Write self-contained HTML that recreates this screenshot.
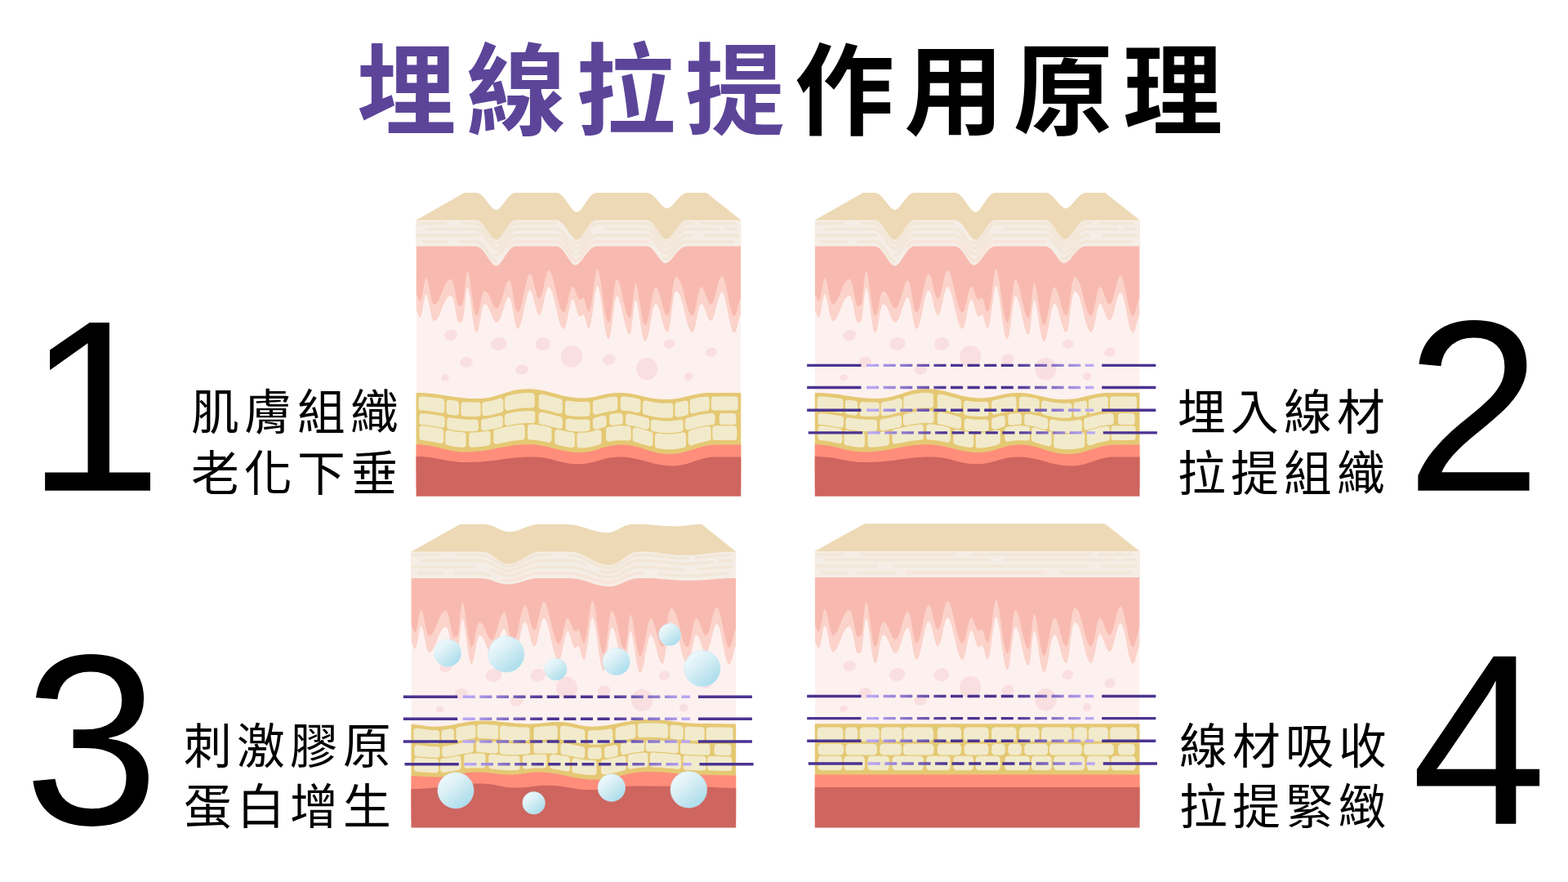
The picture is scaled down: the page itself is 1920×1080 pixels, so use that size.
<!DOCTYPE html>
<html lang="zh-Hant"><head><meta charset="utf-8"><title>埋線拉提作用原理</title>
<style>html,body{margin:0;padding:0;background:#fff}body{width:1920px;height:1080px;overflow:hidden;position:relative;font-family:"Liberation Sans",sans-serif}svg{position:absolute;left:0;top:0;display:block}.t{position:absolute;white-space:nowrap;line-height:1.27;color:transparent;-webkit-text-fill-color:transparent;opacity:0;pointer-events:none;font-family:"Liberation Sans",sans-serif}</style></head>
<body>
<h1 class="t" style="left:437px;top:42px;font-size:122px;letter-spacing:12px;font-weight:bold;margin:0">埋線拉提作用原理</h1>
<div class="t" style="left:30px;top:330px;font-size:299px;letter-spacing:0px;font-weight:normal">1</div>
<div class="t" style="left:234px;top:470px;font-size:58.8px;letter-spacing:6.2px;font-weight:normal">肌膚組織<br>老化下垂</div>
<div class="t" style="left:1719px;top:330px;font-size:299px;letter-spacing:0px;font-weight:normal">2</div>
<div class="t" style="left:1442px;top:470px;font-size:58.8px;letter-spacing:6.2px;font-weight:normal">埋入線材<br>拉提組織</div>
<div class="t" style="left:27px;top:738px;font-size:298px;letter-spacing:0px;font-weight:normal">3</div>
<div class="t" style="left:225px;top:878px;font-size:58.8px;letter-spacing:6.2px;font-weight:normal">刺激膠原<br>蛋白增生</div>
<div class="t" style="left:1726px;top:738px;font-size:298px;letter-spacing:0px;font-weight:normal">4</div>
<div class="t" style="left:1444px;top:878px;font-size:58.8px;letter-spacing:6.2px;font-weight:normal">線材吸收<br>拉提緊緻</div>
<svg width="1920" height="1080" viewBox="0 0 1920 1080">
<defs><linearGradient id="bub" x1="0.18" y1="0.12" x2="0.85" y2="0.92"><stop offset="0" stop-color="#EEF9FC"/><stop offset="0.3" stop-color="#DDF1F6"/><stop offset="0.65" stop-color="#C3E6F0"/><stop offset="1" stop-color="#A8DCEC"/></linearGradient><linearGradient id="thg" gradientUnits="userSpaceOnUse" x1="572" y1="0" x2="852" y2="0"><stop offset="0.03" stop-color="#B9A7F3"/><stop offset="0.36" stop-color="#4B3391"/><stop offset="0.64" stop-color="#4B3391"/><stop offset="0.97" stop-color="#B9A7F3"/></linearGradient><clipPath id="cp"><rect x="509.6" y="200" width="397.7" height="420"/></clipPath></defs>
<rect width="1920" height="1080" fill="#fff"/>
<g transform="translate(0 0)">
<g clip-path="url(#cp)">
<rect x="509.6" y="330" width="397.7" height="170" fill="#FDF1EF"/>
<ellipse cx="552.1" cy="410.5" rx="8" ry="6.6" fill="#FADFE1" transform="rotate(-15 552.1 410.5)"/>
<ellipse cx="610.6" cy="421" rx="10" ry="8" fill="#FADFE1" transform="rotate(-10 610.6 421)"/>
<ellipse cx="664.8" cy="421" rx="9.4" ry="8" fill="#FADFE1" transform="rotate(-10 664.8 421)"/>
<ellipse cx="700" cy="436.4" rx="13.2" ry="13.5" fill="#FADFE1" transform="rotate(0 700 436.4)"/>
<ellipse cx="571" cy="443.5" rx="8" ry="6.5" fill="#FADFE1" transform="rotate(-10 571 443.5)"/>
<ellipse cx="638.9" cy="452.7" rx="8" ry="6" fill="#FADFE1" transform="rotate(-10 638.9 452.7)"/>
<ellipse cx="544.9" cy="462.5" rx="4.9" ry="4" fill="#FADFE1" transform="rotate(-10 544.9 462.5)"/>
<ellipse cx="745.8" cy="440.2" rx="8" ry="6.6" fill="#FADFE1" transform="rotate(-15 745.8 440.2)"/>
<ellipse cx="792.2" cy="451.6" rx="13.2" ry="13.7" fill="#FADFE1" transform="rotate(0 792.2 451.6)"/>
<ellipse cx="819.5" cy="421.2" rx="6.9" ry="5.7" fill="#FADFE1" transform="rotate(-15 819.5 421.2)"/>
<ellipse cx="871" cy="431.3" rx="7.1" ry="5.7" fill="#FADFE1" transform="rotate(-15 871 431.3)"/>
<ellipse cx="843" cy="460.8" rx="5.4" ry="5" fill="#FADFE1" transform="rotate(-40 843 460.8)"/>
<path fill="#FBD3CA" d="M509.6 269.5L509.6 380.8C511 380.8 512.4 388.8 514.3 388.8C517.3 388.8 519.3 360.8 521.8 360.8C525 360.8 527.6 393.2 531.5 393.2C539.7 393.2 542.8 362.3 552.1 362.3C556.8 362.3 558.3 395.1 562.5 395.1C563.9 395.1 564.5 394 565.9 394C568.4 394 570.1 352.2 572.2 352.2C576 352.2 579 407.2 583.6 407.2C587.5 407.2 589 372.4 593.4 372.4C600.1 372.4 602.3 394.8 608.3 394.8C614.4 394.8 618 363.9 623.5 363.9C627.3 363.9 629.9 402.8 634.1 402.8C640.1 402.8 643.6 355.8 649 355.8C653.1 355.8 655.8 386 660.4 386C665 386 667.8 351.3 671.9 351.3C678.6 351.3 683 402.8 690.4 402.8C694.7 402.8 697.2 366.6 701.1 366.6C704.4 366.6 706.7 387.7 710.4 387.7C711.8 387.7 712.7 385.2 714 385.2C716.6 385.2 718.3 402 721.2 402C725.3 402 728.1 350.1 731.5 350.1C736.1 350.1 739.8 415.4 745.3 415.4C749.3 415.4 751.6 362.5 755.2 362.5C761 362.5 764.9 410 771.3 410C774 410 775.9 367.3 778.1 367.3C782 367.3 785.2 418.1 790 418.1C795.2 418.1 798.3 371.9 802.9 371.9C808.2 371.9 811.7 406.9 817.5 406.9C821.6 406.9 823.2 356.8 827.8 356.8C836.9 356.8 839.9 406.9 848 406.9C852.3 406.9 854.8 371.7 858.7 371.7C862.9 371.7 865.8 392.8 870.5 392.8C875.9 392.8 879.1 358.1 883.9 358.1C889.4 358.1 893.1 407.7 899.2 407.7C902.4 407.7 904.9 385.4 907.3 385.4L907.3 269.5Z"/>
<path fill="#F8BAB0" d="M509.6 269.5L509.6 360.4C511 360.4 512.4 368.4 514.3 368.4C517.3 368.4 519.3 340.4 521.8 340.4C525 340.4 527.6 372.8 531.5 372.8C539.7 372.8 542.8 341.9 552.1 341.9C556.8 341.9 558.3 374.7 562.5 374.7C563.9 374.7 564.5 373.6 565.9 373.6C568.4 373.6 570.1 331.8 572.2 331.8C576 331.8 579 386.8 583.6 386.8C587.5 386.8 589 356.4 593.4 356.4C600.1 356.4 602.3 377.6 608.3 377.6C614.4 377.6 618 343.5 623.5 343.5C627.3 343.5 629.9 382.4 634.1 382.4C640.1 382.4 643.6 335.4 649 335.4C653.1 335.4 655.8 365.6 660.4 365.6C665 365.6 667.8 330.9 671.9 330.9C678.6 330.9 683 382.4 690.4 382.4C694.7 382.4 697.2 351 701.1 351C704.4 351 706.7 367.3 710.4 367.3C711.8 367.3 712.7 364.8 714 364.8C716.6 364.8 718.3 381.6 721.2 381.6C725.3 381.6 728.1 329.7 731.5 329.7C736.1 329.7 739.8 395 745.3 395C749.3 395 751.6 342.1 755.2 342.1C761 342.1 764.9 389.6 771.3 389.6C774 389.6 775.9 346.9 778.1 346.9C782 346.9 785.2 397.7 790 397.7C795.2 397.7 798.3 351.5 802.9 351.5C808.2 351.5 811.7 386.5 817.5 386.5C821.6 386.5 823.2 338.9 827.8 338.9C836.9 338.9 839.9 386.5 848 386.5C852.3 386.5 854.8 351.3 858.7 351.3C862.9 351.3 865.8 372.4 870.5 372.4C875.9 372.4 879.1 337.7 883.9 337.7C889.4 337.7 893.1 387.3 899.2 387.3C902.4 387.3 904.9 365 907.3 365L907.3 269.5Z"/>
<path fill="#F5EEE6" d="M509.6 301.6L582.5 301.6C593.1 301.6 600.1 325.7 607.7 325.7C614.9 325.7 621.7 301.6 631.8 301.6L681 301.6C690.9 301.6 697.5 324.8 704.5 324.8C712.4 324.8 719.8 301.6 730.9 301.6L791.7 301.6C801.4 301.6 807.9 322.3 814.8 322.3C822.7 322.3 830 301.6 841 301.6L907.3 301.6L907.3 269.5L903.3 267.5L513.6 267.5L509.6 269.5Z"/>
<path d="M509.6 273.5L582.5 273.5C593.1 273.5 600.1 297.6 607.7 297.6C614.9 297.6 621.7 273.5 631.8 273.5L681 273.5C691.5 273.5 698.6 297.5 706.1 297.5C713.5 297.5 720.5 273.5 730.9 273.5L791.7 273.5C801.8 273.5 808.5 296.7 815.8 296.7C823.5 296.7 830.7 273.5 841.4 273.5L907.3 273.5" fill="none" stroke="#F2E7D8" stroke-width="3.8" stroke-linecap="round" stroke-dasharray="32.3 21.9 135.1 31.9 178 10.3 40.1 99999" stroke-dashoffset="-3"/>
<path d="M509.6 280.3L582.5 280.3C593.1 280.3 600.1 304.4 607.7 304.4C614.9 304.4 621.7 280.3 631.8 280.3L681 280.3C691.4 280.3 698.3 304.1 705.7 304.1C713.3 304.1 720.3 280.3 730.9 280.3L791.7 280.3C801.7 280.3 808.4 302.8 815.5 302.8C823.3 302.8 830.5 280.3 841.3 280.3L907.3 280.3" fill="none" stroke="#F2E7D8" stroke-width="3.8" stroke-linecap="round" stroke-dasharray="242 20.2 156.8 9 13.9 99999" stroke-dashoffset="-13"/>
<path d="M509.6 288L582.5 288C593.1 288 600.1 312.1 607.7 312.1C614.9 312.1 621.7 288 631.8 288L681 288C691.2 288 698 311.5 705.3 311.5C713 311.5 720.1 288 730.9 288L791.7 288C801.6 288 808.2 309.8 815.3 309.8C823.1 309.8 830.3 288 841.2 288L907.3 288" fill="none" stroke="#F2E7D8" stroke-width="3.8" stroke-linecap="round" stroke-dasharray="73.3 33 287.4 18.1 40.9 99999" stroke-dashoffset="-2.2"/>
<path d="M509.6 295.7L582.5 295.7C593.1 295.7 600.1 319.8 607.7 319.8C614.9 319.8 621.7 295.7 631.8 295.7L681 295.7C691 295.7 697.7 319 704.8 319C712.7 319 720 295.7 730.9 295.7L791.7 295.7C801.5 295.7 808 316.9 815 316.9C822.8 316.9 830.1 295.7 841.1 295.7L907.3 295.7" fill="none" stroke="#F2E7D8" stroke-width="3.8" stroke-linecap="round" stroke-dasharray="28.7 15.6 54.4 246.8 93.3 99999" stroke-dashoffset="-9.1"/>
<path d="M509.6 295.7L582.5 295.7C593.1 295.7 600.1 319.8 607.7 319.8C614.9 319.8 621.7 295.7 631.8 295.7L681 295.7C691 295.7 697.7 319 704.8 319C712.7 319 720 295.7 730.9 295.7L791.7 295.7C801.5 295.7 808 316.9 815 316.9C822.8 316.9 830.1 295.7 841.1 295.7L907.3 295.7" fill="none" stroke="#F8E4D9" stroke-width="3.8" stroke-linecap="round" stroke-dasharray="193.2 99999" stroke-dashoffset="-131.8"/>
</g>
<path fill="#EDD9B5" d="M509.6 269.5L568.7 236.1L582.5 236.1C593.1 236.1 600.1 256.9 607.7 256.9C614.9 256.9 621.7 236.1 631.8 236.1L681 236.1C691.6 236.1 698.7 259.8 706.3 259.8C713.7 259.8 720.6 236.1 730.9 236.1L791.7 236.1C802.3 236.1 809.3 255.2 816.9 255.2C824.5 255.2 831.5 236.1 842.1 236.1L865 236.1L907.3 269.5L841.5 269.5C830.7 269.5 823.6 293 815.9 293C808.6 293 801.9 269.5 791.7 269.5L730.9 269.5C720.6 269.5 713.7 293.6 706.3 293.6C698.7 293.6 691.6 269.5 681 269.5L631.8 269.5C621.7 269.5 614.9 293.6 607.7 293.6C600.1 293.6 593.1 269.5 582.5 269.5L509.6 269.5Z"/>
<path fill="#E5C873" d="M509.6 480.9C539.8 480.9 554.8 488.1 585 488.1C609.4 488.1 621.6 476.3 646 476.3C672.4 476.3 685.6 487.4 712 487.4C730.4 487.4 739.6 480.9 758 480.9C780.7 480.9 792.1 489.1 814.8 489.1C837.1 489.1 848.3 480.9 870.6 480.9C885.3 480.9 892.6 480.9 907.3 480.9L907.3 577.7L509.6 577.7Z"/>
<path d="M516.2 489.2L519.7 489.3L523.2 489.6L526.7 489.9L530.1 490.3L533.6 490.7L537.1 491.2L540.6 491.7L540.6 502L537.1 501.4L533.6 500.8L530.1 500.2L526.7 499.8L523.2 499.4L519.7 499.1L516.2 498.9ZM550.4 493.3L554.4 494L558.3 494.5L558.3 505.1L554.4 504.5L550.4 503.8ZM568.2 495.7L571.5 495.9L574.9 496.1L578.2 496.3L581.6 496.3L584.9 496.3L584.9 506.4L581.6 506.5L578.2 506.5L574.9 506.4L571.5 506.3L568.2 506.1ZM594.1 495.7L597.8 495.2L601.5 494.4L605.3 493.5L609 492.5L612.7 491.4L612.7 501.5L609 502.5L605.3 503.5L601.5 504.3L597.8 505.1L594.1 505.6ZM621.8 488.6L625.5 487.5L629.1 486.7L632.8 485.9L636.4 485.4L640.1 485L643.7 484.8L647.4 484.8L651 484.9L651 495.8L647.4 495.7L643.7 495.8L640.1 495.9L636.4 496.3L632.8 496.8L629.1 497.4L625.5 498.2L621.8 499ZM663.3 486.4L666.9 487.1L670.6 488L674.2 489L677.8 490L681.5 491L685.1 491.9L685.1 502.7L681.5 501.8L677.8 500.8L674.2 499.8L670.6 498.9L666.9 498L663.3 497.3ZM695.6 494.3L699.5 494.9L703.3 495.4L707.2 495.7L711 495.8L714.9 495.7L718.7 495.5L718.7 506L714.9 506.3L711 506.4L707.2 506.3L703.3 506.1L699.5 505.6L695.6 505.1ZM729.6 493.7L733.4 492.8L737.3 491.9L741.1 491L744.9 490.2L748.8 489.7L752.6 489.3L752.6 499.1L748.8 499.6L744.9 500.2L741.1 501.1L737.3 502L733.4 503.1L729.6 504ZM763.5 489.2L767 489.5L770.4 489.9L773.9 490.4L777.3 491.1L780.8 491.8L780.8 501.6L777.3 500.8L773.9 500.2L770.4 499.6L767 499.2L763.5 499ZM790.6 494.2L794.4 495.1L798.1 495.8L801.9 496.5L805.6 496.9L809.4 497.3L813.1 497.4L816.8 497.5L820.6 497.3L820.6 508L816.8 508.1L813.1 508L809.4 507.8L805.6 507.3L801.9 506.8L798.1 506L794.4 505.1L790.6 504.2ZM830.2 496.2L833.2 495.6L836.2 495L839.2 494.3L839.2 505.1L836.2 505.8L833.2 506.4L830.2 507ZM848.4 492L851.7 491.3L855 490.6L858.4 490L861.7 489.6L865 489.3L865 499.4L861.7 499.8L858.4 500.3L855 501L851.7 501.8L848.4 502.7ZM874.6 489.1L878.2 489.1L881.9 489.1L885.5 489.1L889.1 489.1L892.7 489.1L896.4 489.1L900 489.1L900 498.8L896.4 498.8L892.7 498.8L889.1 498.8L885.5 498.8L881.9 498.8L878.2 498.8L874.6 498.9ZM517.1 509.8L520.5 510.1L524 510.4L527.4 510.8L530.8 511.3L534.2 511.8L537.7 512.5L541.1 513.1L541.1 520.1L537.7 519.4L534.2 518.7L530.8 518.1L527.4 517.5L524 517L520.5 516.6L517.1 516.4ZM551 515L554.9 515.6L558.8 516.2L562.7 516.7L566.6 517L570.4 517.3L574.3 517.4L578.2 517.5L582.1 517.5L582.1 524.4L578.2 524.5L574.3 524.5L570.4 524.4L566.6 524.2L562.7 523.9L558.8 523.4L554.9 522.8L551 522.2ZM592.8 516.7L596.7 516.2L600.6 515.5L604.4 514.6L608.3 513.7L612.2 512.6L612.2 519.5L608.3 520.5L604.4 521.4L600.6 522.2L596.7 522.9L592.8 523.5ZM621.5 510.2L625.3 509.3L629 508.5L632.8 507.9L636.5 507.4L640.3 507.1L644.1 506.9L647.8 506.9L651.6 507L651.6 514.6L647.8 514.4L644.1 514.4L640.3 514.6L636.5 514.9L632.8 515.3L629 515.9L625.3 516.5L621.5 517.3ZM663.3 508.4L666.9 509.2L670.6 510L674.2 510.9L677.8 511.9L681.5 512.9L685.1 513.9L685.1 521.3L681.5 520.3L677.8 519.4L674.2 518.4L670.6 517.5L666.9 516.7L663.3 515.9ZM696.2 516.2L700 516.8L703.7 517.2L707.5 517.4L711.2 517.5L715 517.4L718.7 517.1L718.7 524.3L715 524.6L711.2 524.8L707.5 524.7L703.7 524.5L700 524.1L696.2 523.6ZM729.6 515L732.7 514.3L735.8 513.4L738.9 512.6L738.9 519.5L735.8 520.4L732.7 521.3L729.6 522.1ZM749.9 510.4L753 510L756 509.8L759.1 509.7L759.1 516.3L756 516.4L753 516.7L749.9 517.1ZM769.8 510.4L773.4 511L777 511.7L780.6 512.5L784.2 513.4L787.8 514.4L791.4 515.3L791.4 522.1L787.8 521.1L784.2 520.1L780.6 519.1L777 518.2L773.4 517.5L769.8 517ZM800.5 517.5L804.1 518.1L807.7 518.6L811.3 519L814.9 519.2L818.6 519.2L822.2 519L825.8 518.7L829.4 518.2L833 517.6L833 525.1L829.4 525.7L825.8 526.1L822.2 526.4L818.6 526.5L814.9 526.4L811.3 526.2L807.7 525.8L804.1 525.2L800.5 524.5ZM842.6 515.3L846.3 514.3L849.9 513.3L853.6 512.4L857.2 511.6L860.9 510.9L864.5 510.4L868.1 510L871.8 509.8L871.8 516.5L868.1 516.8L864.5 517.2L860.9 517.9L857.2 518.6L853.6 519.6L849.9 520.6L846.3 521.7L842.6 522.7ZM884.5 509.7L887.8 509.7L891.1 509.7L894.5 509.7L897.8 509.7L897.8 516.3L894.5 516.3L891.1 516.3L887.8 516.3L884.5 516.3ZM517.1 525L520.8 525.3L524.6 525.8L528.3 526.3L532 527L535.8 527.7L539.5 528.5L539.5 539.4L535.8 538.5L532 537.7L528.3 536.9L524.6 536.3L520.8 535.8L517.1 535.4ZM549 530.5L552.6 531.2L556.2 531.8L559.8 532.3L563.4 532.7L567 533L567 544.1L563.4 543.9L559.8 543.5L556.2 543L552.6 542.4L549 541.6ZM578 533.2L581.8 533.1L585.6 532.9L589.3 532.5L593.1 532.1L596.9 531.5L596.9 542.1L593.1 542.7L589.3 543.2L585.6 543.6L581.8 543.9L578 544.1ZM608.1 529.2L612 528.3L615.8 527.4L619.7 526.5L623.5 525.6L627.4 524.9L631.3 524.3L635.1 523.8L639 523.4L639 535L635.1 535.3L631.3 535.7L627.4 536.2L623.5 536.8L619.7 537.5L615.8 538.3L612 539.1L608.1 539.9ZM649.7 523.2L653.4 523.4L657.1 523.8L660.8 524.3L664.4 524.9L668.1 525.7L671.8 526.5L671.8 538.1L668.1 537.2L664.4 536.5L660.8 535.9L657.1 535.4L653.4 535L649.7 534.9ZM683 529.5L686.4 530.4L689.9 531.2L693.3 531.9L696.8 532.4L700.2 532.9L700.2 544.3L696.8 543.8L693.3 543.3L689.9 542.6L686.4 541.8L683 541ZM710.2 533.5L714 533.4L717.8 533.1L721.5 532.6L725.3 531.9L729.1 530.9L732.9 529.9L732.9 540.8L729.1 542L725.3 543L721.5 543.8L717.8 544.4L714 544.7L710.2 544.8ZM745.8 526.5L749.7 525.8L753.5 525.3L757.4 525L761.3 525L765.1 525.2L769 525.5L769 535.9L765.1 535.6L761.3 535.4L757.4 535.5L753.5 535.8L749.7 536.3L745.8 537.1ZM778.4 527.2L781.9 528.1L785.4 529.1L788.8 530.1L792.3 531.1L795.8 532L795.8 542.8L792.3 541.7L788.8 540.6L785.4 539.6L781.9 538.5L778.4 537.6ZM805.7 534.2L809.5 534.7L813.4 535.1L817.2 535.2L821 535.2L824.8 535L828.6 534.5L832.5 533.9L836.3 533.1L836.3 544.6L832.5 545.4L828.6 546L824.8 546.4L821 546.6L817.2 546.6L813.4 546.3L809.5 545.9L805.7 545.3ZM846.4 530.3L849.8 529.3L853.2 528.4L856.7 527.5L860.1 526.7L863.5 526.1L866.9 525.6L866.9 536.2L863.5 536.8L860.1 537.6L856.7 538.5L853.2 539.5L849.8 540.6L846.4 541.7ZM876.1 525L879.9 525L883.6 525L887.4 525L891.1 525L894.8 525L898.6 525L898.6 535.4L894.8 535.4L891.1 535.4L887.4 535.4L883.6 535.4L879.9 535.4L876.1 535.4Z" fill="#F1EBCC" stroke="#F1EBCC" stroke-width="7.4" stroke-linejoin="round"/>
<path fill="#FF8D7B" d="M509.6 544.2C534.2 544.2 546.4 553.5 571 553.5C601.4 553.5 616.6 544.3 647 544.3C672.2 544.3 684.8 554.2 710 554.2C730.2 554.2 740.3 544.5 760.5 544.5C784.3 544.5 796.2 556 820 556C843.2 556 854.8 544.5 878 544.5C889.7 544.5 895.6 544.5 907.3 544.5L907.3 597.7L509.6 597.7Z"/>
<path fill="#CE655F" d="M509.6 558.9C534.6 558.9 547.2 566.1 572.2 566.1C604.6 566.1 620.7 559.5 653.1 559.5C675 559.5 685.9 568.3 707.8 568.3C727.9 568.3 738 559.5 758.1 559.5C784.4 559.5 797.5 570.5 823.8 570.5C844.8 570.5 855.3 559.5 876.3 559.5C888.7 559.5 894.9 559.5 907.3 559.5L907.3 607.7L509.6 607.7Z"/>
</g>
<g transform="translate(488.2 0)">
<g clip-path="url(#cp)">
<rect x="509.6" y="330" width="397.7" height="170" fill="#FDF1EF"/>
<ellipse cx="552.1" cy="410.5" rx="8" ry="6.6" fill="#FADFE1" transform="rotate(-15 552.1 410.5)"/>
<ellipse cx="610.6" cy="421" rx="10" ry="8" fill="#FADFE1" transform="rotate(-10 610.6 421)"/>
<ellipse cx="664.8" cy="421" rx="9.4" ry="8" fill="#FADFE1" transform="rotate(-10 664.8 421)"/>
<ellipse cx="700" cy="436.4" rx="13.2" ry="13.5" fill="#FADFE1" transform="rotate(0 700 436.4)"/>
<ellipse cx="571" cy="443.5" rx="8" ry="6.5" fill="#FADFE1" transform="rotate(-10 571 443.5)"/>
<ellipse cx="638.9" cy="452.7" rx="8" ry="6" fill="#FADFE1" transform="rotate(-10 638.9 452.7)"/>
<ellipse cx="544.9" cy="462.5" rx="4.9" ry="4" fill="#FADFE1" transform="rotate(-10 544.9 462.5)"/>
<ellipse cx="745.8" cy="440.2" rx="8" ry="6.6" fill="#FADFE1" transform="rotate(-15 745.8 440.2)"/>
<ellipse cx="792.2" cy="451.6" rx="13.2" ry="13.7" fill="#FADFE1" transform="rotate(0 792.2 451.6)"/>
<ellipse cx="819.5" cy="421.2" rx="6.9" ry="5.7" fill="#FADFE1" transform="rotate(-15 819.5 421.2)"/>
<ellipse cx="871" cy="431.3" rx="7.1" ry="5.7" fill="#FADFE1" transform="rotate(-15 871 431.3)"/>
<ellipse cx="843" cy="460.8" rx="5.4" ry="5" fill="#FADFE1" transform="rotate(-40 843 460.8)"/>
<path fill="#FBD3CA" d="M509.6 269.5L509.6 380.8C511 380.8 512.4 388.8 514.3 388.8C517.3 388.8 519.3 360.8 521.8 360.8C525 360.8 527.6 393.2 531.5 393.2C539.7 393.2 542.8 362.3 552.1 362.3C556.8 362.3 558.3 395.1 562.5 395.1C563.9 395.1 564.5 394 565.9 394C568.4 394 570.1 352.2 572.2 352.2C576 352.2 579 407.2 583.6 407.2C587.5 407.2 589 372.4 593.4 372.4C600.1 372.4 602.3 394.8 608.3 394.8C614.4 394.8 618 363.9 623.5 363.9C627.3 363.9 629.9 402.8 634.1 402.8C640.1 402.8 643.6 355.8 649 355.8C653.1 355.8 655.8 386 660.4 386C665 386 667.8 351.3 671.9 351.3C678.6 351.3 683 402.8 690.4 402.8C694.7 402.8 697.2 366.6 701.1 366.6C704.4 366.6 706.7 387.7 710.4 387.7C711.8 387.7 712.7 385.2 714 385.2C716.6 385.2 718.3 402 721.2 402C725.3 402 728.1 350.1 731.5 350.1C736.1 350.1 739.8 415.4 745.3 415.4C749.3 415.4 751.6 362.5 755.2 362.5C761 362.5 764.9 410 771.3 410C774 410 775.9 367.3 778.1 367.3C782 367.3 785.2 418.1 790 418.1C795.2 418.1 798.3 371.9 802.9 371.9C808.2 371.9 811.7 406.9 817.5 406.9C821.6 406.9 823.2 356.8 827.8 356.8C836.9 356.8 839.9 406.9 848 406.9C852.3 406.9 854.8 371.7 858.7 371.7C862.9 371.7 865.8 392.8 870.5 392.8C875.9 392.8 879.1 358.1 883.9 358.1C889.4 358.1 893.1 407.7 899.2 407.7C902.4 407.7 904.9 385.4 907.3 385.4L907.3 269.5Z"/>
<path fill="#F8BAB0" d="M509.6 269.5L509.6 360.4C511 360.4 512.4 368.4 514.3 368.4C517.3 368.4 519.3 340.4 521.8 340.4C525 340.4 527.6 372.8 531.5 372.8C539.7 372.8 542.8 341.9 552.1 341.9C556.8 341.9 558.3 374.7 562.5 374.7C563.9 374.7 564.5 373.6 565.9 373.6C568.4 373.6 570.1 331.8 572.2 331.8C576 331.8 579 386.8 583.6 386.8C587.5 386.8 589 356.4 593.4 356.4C600.1 356.4 602.3 377.6 608.3 377.6C614.4 377.6 618 343.5 623.5 343.5C627.3 343.5 629.9 382.4 634.1 382.4C640.1 382.4 643.6 335.4 649 335.4C653.1 335.4 655.8 365.6 660.4 365.6C665 365.6 667.8 330.9 671.9 330.9C678.6 330.9 683 382.4 690.4 382.4C694.7 382.4 697.2 351 701.1 351C704.4 351 706.7 367.3 710.4 367.3C711.8 367.3 712.7 364.8 714 364.8C716.6 364.8 718.3 381.6 721.2 381.6C725.3 381.6 728.1 329.7 731.5 329.7C736.1 329.7 739.8 395 745.3 395C749.3 395 751.6 342.1 755.2 342.1C761 342.1 764.9 389.6 771.3 389.6C774 389.6 775.9 346.9 778.1 346.9C782 346.9 785.2 397.7 790 397.7C795.2 397.7 798.3 351.5 802.9 351.5C808.2 351.5 811.7 386.5 817.5 386.5C821.6 386.5 823.2 338.9 827.8 338.9C836.9 338.9 839.9 386.5 848 386.5C852.3 386.5 854.8 351.3 858.7 351.3C862.9 351.3 865.8 372.4 870.5 372.4C875.9 372.4 879.1 337.7 883.9 337.7C889.4 337.7 893.1 387.3 899.2 387.3C902.4 387.3 904.9 365 907.3 365L907.3 269.5Z"/>
<path fill="#F5EEE6" d="M509.6 301.6L582.5 301.6C593.1 301.6 600.1 325.7 607.7 325.7C614.9 325.7 621.7 301.6 631.8 301.6L681 301.6C690.9 301.6 697.5 324.8 704.5 324.8C712.4 324.8 719.8 301.6 730.9 301.6L791.7 301.6C801.4 301.6 807.9 322.3 814.8 322.3C822.7 322.3 830 301.6 841 301.6L907.3 301.6L907.3 269.5L903.3 267.5L513.6 267.5L509.6 269.5Z"/>
<path d="M509.6 273.5L582.5 273.5C593.1 273.5 600.1 297.6 607.7 297.6C614.9 297.6 621.7 273.5 631.8 273.5L681 273.5C691.5 273.5 698.6 297.5 706.1 297.5C713.5 297.5 720.5 273.5 730.9 273.5L791.7 273.5C801.8 273.5 808.5 296.7 815.8 296.7C823.5 296.7 830.7 273.5 841.4 273.5L907.3 273.5" fill="none" stroke="#F2E7D8" stroke-width="3.8" stroke-linecap="round" stroke-dasharray="32.3 21.9 135.1 31.9 178 10.3 40.1 99999" stroke-dashoffset="-3"/>
<path d="M509.6 280.3L582.5 280.3C593.1 280.3 600.1 304.4 607.7 304.4C614.9 304.4 621.7 280.3 631.8 280.3L681 280.3C691.4 280.3 698.3 304.1 705.7 304.1C713.3 304.1 720.3 280.3 730.9 280.3L791.7 280.3C801.7 280.3 808.4 302.8 815.5 302.8C823.3 302.8 830.5 280.3 841.3 280.3L907.3 280.3" fill="none" stroke="#F2E7D8" stroke-width="3.8" stroke-linecap="round" stroke-dasharray="242 20.2 156.8 9 13.9 99999" stroke-dashoffset="-13"/>
<path d="M509.6 288L582.5 288C593.1 288 600.1 312.1 607.7 312.1C614.9 312.1 621.7 288 631.8 288L681 288C691.2 288 698 311.5 705.3 311.5C713 311.5 720.1 288 730.9 288L791.7 288C801.6 288 808.2 309.8 815.3 309.8C823.1 309.8 830.3 288 841.2 288L907.3 288" fill="none" stroke="#F2E7D8" stroke-width="3.8" stroke-linecap="round" stroke-dasharray="73.3 33 287.4 18.1 40.9 99999" stroke-dashoffset="-2.2"/>
<path d="M509.6 295.7L582.5 295.7C593.1 295.7 600.1 319.8 607.7 319.8C614.9 319.8 621.7 295.7 631.8 295.7L681 295.7C691 295.7 697.7 319 704.8 319C712.7 319 720 295.7 730.9 295.7L791.7 295.7C801.5 295.7 808 316.9 815 316.9C822.8 316.9 830.1 295.7 841.1 295.7L907.3 295.7" fill="none" stroke="#F2E7D8" stroke-width="3.8" stroke-linecap="round" stroke-dasharray="28.7 15.6 54.4 246.8 93.3 99999" stroke-dashoffset="-9.1"/>
<path d="M509.6 295.7L582.5 295.7C593.1 295.7 600.1 319.8 607.7 319.8C614.9 319.8 621.7 295.7 631.8 295.7L681 295.7C691 295.7 697.7 319 704.8 319C712.7 319 720 295.7 730.9 295.7L791.7 295.7C801.5 295.7 808 316.9 815 316.9C822.8 316.9 830.1 295.7 841.1 295.7L907.3 295.7" fill="none" stroke="#F8E4D9" stroke-width="3.8" stroke-linecap="round" stroke-dasharray="193.2 99999" stroke-dashoffset="-131.8"/>
</g>
<path fill="#EDD9B5" d="M509.6 269.5L568.7 236.1L582.5 236.1C593.1 236.1 600.1 256.9 607.7 256.9C614.9 256.9 621.7 236.1 631.8 236.1L681 236.1C691.6 236.1 698.7 259.8 706.3 259.8C713.7 259.8 720.6 236.1 730.9 236.1L791.7 236.1C802.3 236.1 809.3 255.2 816.9 255.2C824.5 255.2 831.5 236.1 842.1 236.1L865 236.1L907.3 269.5L841.5 269.5C830.7 269.5 823.6 293 815.9 293C808.6 293 801.9 269.5 791.7 269.5L730.9 269.5C720.6 269.5 713.7 293.6 706.3 293.6C698.7 293.6 691.6 269.5 681 269.5L631.8 269.5C621.7 269.5 614.9 293.6 607.7 293.6C600.1 293.6 593.1 269.5 582.5 269.5L509.6 269.5Z"/>
<path fill="#E5C873" d="M509.6 480.9C539.8 480.9 554.8 488.1 585 488.1C609.4 488.1 621.6 476.3 646 476.3C672.4 476.3 685.6 487.4 712 487.4C730.4 487.4 739.6 480.9 758 480.9C780.7 480.9 792.1 489.1 814.8 489.1C837.1 489.1 848.3 480.9 870.6 480.9C885.3 480.9 892.6 480.9 907.3 480.9L907.3 577.7L509.6 577.7Z"/>
<path d="M516.2 489.2L519.7 489.3L523.2 489.6L526.7 489.9L530.1 490.3L533.6 490.7L537.1 491.2L540.6 491.7L540.6 502L537.1 501.4L533.6 500.8L530.1 500.2L526.7 499.8L523.2 499.4L519.7 499.1L516.2 498.9ZM550.4 493.3L554.4 494L558.3 494.5L558.3 505.1L554.4 504.5L550.4 503.8ZM568.2 495.7L571.5 495.9L574.9 496.1L578.2 496.3L581.6 496.3L584.9 496.3L584.9 506.4L581.6 506.5L578.2 506.5L574.9 506.4L571.5 506.3L568.2 506.1ZM594.1 495.7L597.8 495.2L601.5 494.4L605.3 493.5L609 492.5L612.7 491.4L612.7 501.5L609 502.5L605.3 503.5L601.5 504.3L597.8 505.1L594.1 505.6ZM621.8 488.6L625.5 487.5L629.1 486.7L632.8 485.9L636.4 485.4L640.1 485L643.7 484.8L647.4 484.8L651 484.9L651 495.8L647.4 495.7L643.7 495.8L640.1 495.9L636.4 496.3L632.8 496.8L629.1 497.4L625.5 498.2L621.8 499ZM663.3 486.4L666.9 487.1L670.6 488L674.2 489L677.8 490L681.5 491L685.1 491.9L685.1 502.7L681.5 501.8L677.8 500.8L674.2 499.8L670.6 498.9L666.9 498L663.3 497.3ZM695.6 494.3L699.5 494.9L703.3 495.4L707.2 495.7L711 495.8L714.9 495.7L718.7 495.5L718.7 506L714.9 506.3L711 506.4L707.2 506.3L703.3 506.1L699.5 505.6L695.6 505.1ZM729.6 493.7L733.4 492.8L737.3 491.9L741.1 491L744.9 490.2L748.8 489.7L752.6 489.3L752.6 499.1L748.8 499.6L744.9 500.2L741.1 501.1L737.3 502L733.4 503.1L729.6 504ZM763.5 489.2L767 489.5L770.4 489.9L773.9 490.4L777.3 491.1L780.8 491.8L780.8 501.6L777.3 500.8L773.9 500.2L770.4 499.6L767 499.2L763.5 499ZM790.6 494.2L794.4 495.1L798.1 495.8L801.9 496.5L805.6 496.9L809.4 497.3L813.1 497.4L816.8 497.5L820.6 497.3L820.6 508L816.8 508.1L813.1 508L809.4 507.8L805.6 507.3L801.9 506.8L798.1 506L794.4 505.1L790.6 504.2ZM830.2 496.2L833.2 495.6L836.2 495L839.2 494.3L839.2 505.1L836.2 505.8L833.2 506.4L830.2 507ZM848.4 492L851.7 491.3L855 490.6L858.4 490L861.7 489.6L865 489.3L865 499.4L861.7 499.8L858.4 500.3L855 501L851.7 501.8L848.4 502.7ZM874.6 489.1L878.2 489.1L881.9 489.1L885.5 489.1L889.1 489.1L892.7 489.1L896.4 489.1L900 489.1L900 498.8L896.4 498.8L892.7 498.8L889.1 498.8L885.5 498.8L881.9 498.8L878.2 498.8L874.6 498.9ZM517.1 509.8L520.5 510.1L524 510.4L527.4 510.8L530.8 511.3L534.2 511.8L537.7 512.5L541.1 513.1L541.1 520.1L537.7 519.4L534.2 518.7L530.8 518.1L527.4 517.5L524 517L520.5 516.6L517.1 516.4ZM551 515L554.9 515.6L558.8 516.2L562.7 516.7L566.6 517L570.4 517.3L574.3 517.4L578.2 517.5L582.1 517.5L582.1 524.4L578.2 524.5L574.3 524.5L570.4 524.4L566.6 524.2L562.7 523.9L558.8 523.4L554.9 522.8L551 522.2ZM592.8 516.7L596.7 516.2L600.6 515.5L604.4 514.6L608.3 513.7L612.2 512.6L612.2 519.5L608.3 520.5L604.4 521.4L600.6 522.2L596.7 522.9L592.8 523.5ZM621.5 510.2L625.3 509.3L629 508.5L632.8 507.9L636.5 507.4L640.3 507.1L644.1 506.9L647.8 506.9L651.6 507L651.6 514.6L647.8 514.4L644.1 514.4L640.3 514.6L636.5 514.9L632.8 515.3L629 515.9L625.3 516.5L621.5 517.3ZM663.3 508.4L666.9 509.2L670.6 510L674.2 510.9L677.8 511.9L681.5 512.9L685.1 513.9L685.1 521.3L681.5 520.3L677.8 519.4L674.2 518.4L670.6 517.5L666.9 516.7L663.3 515.9ZM696.2 516.2L700 516.8L703.7 517.2L707.5 517.4L711.2 517.5L715 517.4L718.7 517.1L718.7 524.3L715 524.6L711.2 524.8L707.5 524.7L703.7 524.5L700 524.1L696.2 523.6ZM729.6 515L732.7 514.3L735.8 513.4L738.9 512.6L738.9 519.5L735.8 520.4L732.7 521.3L729.6 522.1ZM749.9 510.4L753 510L756 509.8L759.1 509.7L759.1 516.3L756 516.4L753 516.7L749.9 517.1ZM769.8 510.4L773.4 511L777 511.7L780.6 512.5L784.2 513.4L787.8 514.4L791.4 515.3L791.4 522.1L787.8 521.1L784.2 520.1L780.6 519.1L777 518.2L773.4 517.5L769.8 517ZM800.5 517.5L804.1 518.1L807.7 518.6L811.3 519L814.9 519.2L818.6 519.2L822.2 519L825.8 518.7L829.4 518.2L833 517.6L833 525.1L829.4 525.7L825.8 526.1L822.2 526.4L818.6 526.5L814.9 526.4L811.3 526.2L807.7 525.8L804.1 525.2L800.5 524.5ZM842.6 515.3L846.3 514.3L849.9 513.3L853.6 512.4L857.2 511.6L860.9 510.9L864.5 510.4L868.1 510L871.8 509.8L871.8 516.5L868.1 516.8L864.5 517.2L860.9 517.9L857.2 518.6L853.6 519.6L849.9 520.6L846.3 521.7L842.6 522.7ZM884.5 509.7L887.8 509.7L891.1 509.7L894.5 509.7L897.8 509.7L897.8 516.3L894.5 516.3L891.1 516.3L887.8 516.3L884.5 516.3ZM517.1 525L520.8 525.3L524.6 525.8L528.3 526.3L532 527L535.8 527.7L539.5 528.5L539.5 539.4L535.8 538.5L532 537.7L528.3 536.9L524.6 536.3L520.8 535.8L517.1 535.4ZM549 530.5L552.6 531.2L556.2 531.8L559.8 532.3L563.4 532.7L567 533L567 544.1L563.4 543.9L559.8 543.5L556.2 543L552.6 542.4L549 541.6ZM578 533.2L581.8 533.1L585.6 532.9L589.3 532.5L593.1 532.1L596.9 531.5L596.9 542.1L593.1 542.7L589.3 543.2L585.6 543.6L581.8 543.9L578 544.1ZM608.1 529.2L612 528.3L615.8 527.4L619.7 526.5L623.5 525.6L627.4 524.9L631.3 524.3L635.1 523.8L639 523.4L639 535L635.1 535.3L631.3 535.7L627.4 536.2L623.5 536.8L619.7 537.5L615.8 538.3L612 539.1L608.1 539.9ZM649.7 523.2L653.4 523.4L657.1 523.8L660.8 524.3L664.4 524.9L668.1 525.7L671.8 526.5L671.8 538.1L668.1 537.2L664.4 536.5L660.8 535.9L657.1 535.4L653.4 535L649.7 534.9ZM683 529.5L686.4 530.4L689.9 531.2L693.3 531.9L696.8 532.4L700.2 532.9L700.2 544.3L696.8 543.8L693.3 543.3L689.9 542.6L686.4 541.8L683 541ZM710.2 533.5L714 533.4L717.8 533.1L721.5 532.6L725.3 531.9L729.1 530.9L732.9 529.9L732.9 540.8L729.1 542L725.3 543L721.5 543.8L717.8 544.4L714 544.7L710.2 544.8ZM745.8 526.5L749.7 525.8L753.5 525.3L757.4 525L761.3 525L765.1 525.2L769 525.5L769 535.9L765.1 535.6L761.3 535.4L757.4 535.5L753.5 535.8L749.7 536.3L745.8 537.1ZM778.4 527.2L781.9 528.1L785.4 529.1L788.8 530.1L792.3 531.1L795.8 532L795.8 542.8L792.3 541.7L788.8 540.6L785.4 539.6L781.9 538.5L778.4 537.6ZM805.7 534.2L809.5 534.7L813.4 535.1L817.2 535.2L821 535.2L824.8 535L828.6 534.5L832.5 533.9L836.3 533.1L836.3 544.6L832.5 545.4L828.6 546L824.8 546.4L821 546.6L817.2 546.6L813.4 546.3L809.5 545.9L805.7 545.3ZM846.4 530.3L849.8 529.3L853.2 528.4L856.7 527.5L860.1 526.7L863.5 526.1L866.9 525.6L866.9 536.2L863.5 536.8L860.1 537.6L856.7 538.5L853.2 539.5L849.8 540.6L846.4 541.7ZM876.1 525L879.9 525L883.6 525L887.4 525L891.1 525L894.8 525L898.6 525L898.6 535.4L894.8 535.4L891.1 535.4L887.4 535.4L883.6 535.4L879.9 535.4L876.1 535.4Z" fill="#F1EBCC" stroke="#F1EBCC" stroke-width="7.4" stroke-linejoin="round"/>
<path fill="#FF8D7B" d="M509.6 544.2C534.2 544.2 546.4 553.5 571 553.5C601.4 553.5 616.6 544.3 647 544.3C672.2 544.3 684.8 554.2 710 554.2C730.2 554.2 740.3 544.5 760.5 544.5C784.3 544.5 796.2 556 820 556C843.2 556 854.8 544.5 878 544.5C889.7 544.5 895.6 544.5 907.3 544.5L907.3 597.7L509.6 597.7Z"/>
<path fill="#CE655F" d="M509.6 558.9C534.6 558.9 547.2 566.1 572.2 566.1C604.6 566.1 620.7 559.5 653.1 559.5C675 559.5 685.9 568.3 707.8 568.3C727.9 568.3 738 559.5 758.1 559.5C784.4 559.5 797.5 570.5 823.8 570.5C844.8 570.5 855.3 559.5 876.3 559.5C888.7 559.5 894.9 559.5 907.3 559.5L907.3 607.7L509.6 607.7Z"/>
<path d="M500 447.4H566.3M861 447.4H927.1" stroke="#4B3391" stroke-width="3.4" fill="none"/>
<path d="M572.8 447.4H851.1" stroke="url(#thg)" stroke-width="3.4" fill="none" stroke-dasharray="15.1 5.5"/>
<path d="M500 474.5H566.3M861 474.5H927.1" stroke="#4B3391" stroke-width="3.4" fill="none"/>
<path d="M572.8 474.5H851.1" stroke="url(#thg)" stroke-width="3.4" fill="none" stroke-dasharray="15.1 5.5"/>
<path d="M500 502.2H566.3M861 502.2H927.1" stroke="#4B3391" stroke-width="3.4" fill="none"/>
<path d="M572.8 502.2H851.1" stroke="url(#thg)" stroke-width="3.4" fill="none" stroke-dasharray="15.1 5.5"/>
<path d="M501.6 529.9H567.9M862.6 529.9H928.7" stroke="#4B3391" stroke-width="3.4" fill="none"/>
<path d="M574.4 529.9H852.7" stroke="url(#thg)" stroke-width="3.4" fill="none" stroke-dasharray="15.1 5.5"/>
</g>
<g transform="translate(-6.1 405.8)">
<g clip-path="url(#cp)">
<rect x="509.6" y="330" width="397.7" height="170" fill="#FDF1EF"/>
<ellipse cx="552.1" cy="410.5" rx="8" ry="6.6" fill="#FADFE1" transform="rotate(-15 552.1 410.5)"/>
<ellipse cx="610.6" cy="421" rx="10" ry="8" fill="#FADFE1" transform="rotate(-10 610.6 421)"/>
<ellipse cx="664.8" cy="421" rx="9.4" ry="8" fill="#FADFE1" transform="rotate(-10 664.8 421)"/>
<ellipse cx="700" cy="436.4" rx="13.2" ry="13.5" fill="#FADFE1" transform="rotate(0 700 436.4)"/>
<ellipse cx="571" cy="443.5" rx="8" ry="6.5" fill="#FADFE1" transform="rotate(-10 571 443.5)"/>
<ellipse cx="638.9" cy="452.7" rx="8" ry="6" fill="#FADFE1" transform="rotate(-10 638.9 452.7)"/>
<ellipse cx="544.9" cy="462.5" rx="4.9" ry="4" fill="#FADFE1" transform="rotate(-10 544.9 462.5)"/>
<ellipse cx="745.8" cy="440.2" rx="8" ry="6.6" fill="#FADFE1" transform="rotate(-15 745.8 440.2)"/>
<ellipse cx="792.2" cy="451.6" rx="13.2" ry="13.7" fill="#FADFE1" transform="rotate(0 792.2 451.6)"/>
<ellipse cx="819.5" cy="421.2" rx="6.9" ry="5.7" fill="#FADFE1" transform="rotate(-15 819.5 421.2)"/>
<ellipse cx="871" cy="431.3" rx="7.1" ry="5.7" fill="#FADFE1" transform="rotate(-15 871 431.3)"/>
<ellipse cx="843" cy="460.8" rx="5.4" ry="5" fill="#FADFE1" transform="rotate(-40 843 460.8)"/>
<path fill="#FBD3CA" d="M509.6 269.6L509.6 380.8C511 380.8 512.4 388.8 514.3 388.8C517.3 388.8 519.3 360.8 521.8 360.8C525 360.8 527.6 393.2 531.5 393.2C539.7 393.2 542.8 362.3 552.1 362.3C556.8 362.3 558.3 395.1 562.5 395.1C563.9 395.1 564.5 394 565.9 394C568.4 394 570.1 352.2 572.2 352.2C576 352.2 579 407.2 583.6 407.2C587.5 407.2 589 372.4 593.4 372.4C600.1 372.4 602.3 394.8 608.3 394.8C614.4 394.8 618 363.9 623.5 363.9C627.3 363.9 629.9 402.8 634.1 402.8C640.1 402.8 643.6 355.8 649 355.8C653.1 355.8 655.8 386 660.4 386C665 386 667.8 351.3 671.9 351.3C678.6 351.3 683 402.8 690.4 402.8C694.7 402.8 697.2 366.6 701.1 366.6C704.4 366.6 706.7 387.7 710.4 387.7C711.8 387.7 712.7 385.2 714 385.2C716.6 385.2 718.3 402 721.2 402C725.3 402 728.1 350.1 731.5 350.1C736.1 350.1 739.8 415.4 745.3 415.4C749.3 415.4 751.6 362.5 755.2 362.5C761 362.5 764.9 410 771.3 410C774 410 775.9 367.3 778.1 367.3C782 367.3 785.2 418.1 790 418.1C795.2 418.1 798.3 371.9 802.9 371.9C808.2 371.9 811.7 406.9 817.5 406.9C821.6 406.9 823.2 356.8 827.8 356.8C836.9 356.8 839.9 406.9 848 406.9C852.3 406.9 854.8 371.7 858.7 371.7C862.9 371.7 865.8 392.8 870.5 392.8C875.9 392.8 879.1 358.1 883.9 358.1C889.4 358.1 893.1 407.7 899.2 407.7C902.4 407.7 904.9 385.4 907.3 385.4L907.3 269.6Z"/>
<path fill="#F8BAB0" d="M509.6 269.6L509.6 360.4C511 360.4 512.4 368.4 514.3 368.4C517.3 368.4 519.3 340.4 521.8 340.4C525 340.4 527.6 372.8 531.5 372.8C539.7 372.8 542.8 341.9 552.1 341.9C556.8 341.9 558.3 374.7 562.5 374.7C563.9 374.7 564.5 373.6 565.9 373.6C568.4 373.6 570.1 331.8 572.2 331.8C576 331.8 579 386.8 583.6 386.8C587.5 386.8 589 356.4 593.4 356.4C600.1 356.4 602.3 377.6 608.3 377.6C614.4 377.6 618 343.5 623.5 343.5C627.3 343.5 629.9 382.4 634.1 382.4C640.1 382.4 643.6 335.4 649 335.4C653.1 335.4 655.8 365.6 660.4 365.6C665 365.6 667.8 330.9 671.9 330.9C678.6 330.9 683 382.4 690.4 382.4C694.7 382.4 697.2 351 701.1 351C704.4 351 706.7 367.3 710.4 367.3C711.8 367.3 712.7 364.8 714 364.8C716.6 364.8 718.3 381.6 721.2 381.6C725.3 381.6 728.1 329.7 731.5 329.7C736.1 329.7 739.8 395 745.3 395C749.3 395 751.6 342.1 755.2 342.1C761 342.1 764.9 389.6 771.3 389.6C774 389.6 775.9 346.9 778.1 346.9C782 346.9 785.2 397.7 790 397.7C795.2 397.7 798.3 351.5 802.9 351.5C808.2 351.5 811.7 386.5 817.5 386.5C821.6 386.5 823.2 338.9 827.8 338.9C836.9 338.9 839.9 386.5 848 386.5C852.3 386.5 854.8 351.3 858.7 351.3C862.9 351.3 865.8 372.4 870.5 372.4C875.9 372.4 879.1 337.7 883.9 337.7C889.4 337.7 893.1 387.3 899.2 387.3C902.4 387.3 904.9 365 907.3 365L907.3 269.6Z"/>
<path fill="#F5EEE6" d="M509.6 302.1L594.1 302.1C607.6 302.1 615.1 309.6 627.9 309.6C642.3 309.6 650.6 302.1 665.7 302.1L703.1 302.1C722.6 302.1 733.4 312.2 751.9 312.2C765.8 312.2 773.9 302.1 788.6 302.1L796.1 302.1C817.4 302.1 829.1 305 849.3 305C870.1 305 882.2 302.1 904.1 302.1L907.3 302.1L907.3 269.6L903.3 267.6L513.6 267.6L509.6 269.6Z"/>
<path d="M509.6 273.7L595.6 273.7C608.9 273.7 616.2 287.8 628.9 287.8C643.6 287.8 652.2 273.7 667.7 273.7L703.1 273.7C722.6 273.7 733.4 289.4 751.9 289.4C765.8 289.4 773.9 273.7 788.6 273.7L792.6 273.7C813.3 273.7 824.7 277.9 844.3 277.9C867 277.9 880.2 273.7 904.1 273.7L907.3 273.7" fill="none" stroke="#F2E7D8" stroke-width="3.8" stroke-linecap="round" stroke-dasharray="32.3 21.9 119.7 21.8 153.1 10.3 40.3 99999" stroke-dashoffset="-3"/>
<path d="M509.6 280.5L595.2 280.5C608.6 280.5 615.9 293 628.6 293C643.3 293 651.8 280.5 667.2 280.5L703.1 280.5C722.6 280.5 733.4 294.8 751.9 294.8C765.8 294.8 773.9 280.5 788.6 280.5L793.4 280.5C814.3 280.5 825.7 284.4 845.5 284.4C867.8 284.4 880.7 280.5 904.1 280.5L907.3 280.5" fill="none" stroke="#F2E7D8" stroke-width="3.8" stroke-linecap="round" stroke-dasharray="206.1 20.4 140.9 9 13.9 99999" stroke-dashoffset="-13"/>
<path d="M509.6 288.3L594.8 288.3C608.2 288.3 615.6 299 628.4 299C642.9 299 651.4 288.3 666.7 288.3L703.1 288.3C722.6 288.3 733.4 301.1 751.9 301.1C765.8 301.1 773.9 288.3 788.6 288.3L794.4 288.3C815.4 288.3 826.9 291.8 846.9 291.8C868.6 291.8 881.2 288.3 904.1 288.3L907.3 288.3" fill="none" stroke="#F2E7D8" stroke-width="3.8" stroke-linecap="round" stroke-dasharray="73.2 22.7 244.7 18.1 41 99999" stroke-dashoffset="-2.2"/>
<path d="M509.6 296.1L594.4 296.1C607.9 296.1 615.3 305 628.1 305C642.6 305 650.9 296.1 666.1 296.1L703.1 296.1C722.6 296.1 733.4 307.4 751.9 307.4C765.8 307.4 773.9 296.1 788.6 296.1L795.4 296.1C816.5 296.1 828.1 299.3 848.2 299.3C869.5 299.3 881.8 296.1 904.1 296.1L907.3 296.1" fill="none" stroke="#F2E7D8" stroke-width="3.8" stroke-linecap="round" stroke-dasharray="28.7 15.6 43.9 211.9 84.7 99999" stroke-dashoffset="-9.1"/>
<path d="M509.6 296.1L594.4 296.1C607.9 296.1 615.3 305 628.1 305C642.6 305 650.9 296.1 666.1 296.1L703.1 296.1C722.6 296.1 733.4 307.4 751.9 307.4C765.8 307.4 773.9 296.1 788.6 296.1L795.4 296.1C816.5 296.1 828.1 299.3 848.2 299.3C869.5 299.3 881.8 296.1 904.1 296.1L907.3 296.1" fill="none" stroke="#F8E4D9" stroke-width="3.8" stroke-linecap="round" stroke-dasharray="174.7 99999" stroke-dashoffset="-113.9"/>
</g>
<path fill="#EDD9B5" d="M509.6 269.6L569.4 236.3L599.2 236.3C611.6 236.3 618.4 245.4 630.2 245.4C643.7 245.4 651.5 236.3 665.7 236.3L699.1 236.3C719.3 236.3 730.4 246.5 749.6 246.5C761.4 246.5 768.2 236.3 780.6 236.3L785.1 236.3C804.7 236.3 815.5 238.7 834.1 238.7C846 238.7 852.9 236.3 865.4 236.3L865.4 236.3L907.3 269.6L904.1 269.6C879.9 269.6 866.6 274 843.6 274C824 274 812.7 269.6 792.1 269.6L788.6 269.6C773.9 269.6 765.8 286.1 751.9 286.1C733.4 286.1 722.6 269.6 703.1 269.6L668 269.6C652.4 269.6 643.8 284.7 629 284.7C616.4 284.7 609.1 269.6 595.8 269.6L509.6 269.6Z"/>
<path fill="#E5C873" d="M509.6 481.2C521.5 481.2 527.5 483.9 539.4 483.9C562.2 483.9 573.5 476.8 596.3 476.8C619.5 476.8 631 480.6 654.2 480.6C669 480.6 676.3 478.2 691.1 478.2C707.3 478.2 715.5 483.9 731.7 483.9C758.8 483.9 772.4 475.1 799.5 475.1C825.8 475.1 838.9 480.1 865.2 480.1C882 480.1 890.5 480.6 907.3 480.6L907.3 577.7L509.6 577.7Z"/>
<path d="M516.2 489.6L519.7 490L523.2 490.4L526.7 490.9L530.1 491.4L533.6 491.7L537.1 491.9L540.6 491.9L540.6 501.2L537.1 501.2L533.6 501L530.1 500.7L526.7 500.4L523.2 499.9L519.7 499.5L516.2 499.2ZM550.4 491.4L554.4 490.9L558.3 490.2L558.3 499.5L554.4 500.2L550.4 500.7ZM568.2 488.3L571.5 487.6L574.9 487L578.2 486.4L581.6 485.9L584.9 485.5L584.9 494.9L581.6 495.3L578.2 495.7L574.9 496.3L571.5 496.9L568.2 497.6ZM594.1 484.9L597.8 484.9L601.5 485L605.3 485.2L609 485.4L612.7 485.6L612.7 495.6L609 495.2L605.3 495L601.5 494.7L597.8 494.6L594.1 494.5ZM621.8 486.5L625.5 486.9L629.1 487.3L632.8 487.6L636.4 487.9L640.1 488.2L643.7 488.4L647.4 488.5L651 488.5L651 497.4L647.4 497.5L643.7 497.6L640.1 497.6L636.4 497.5L632.8 497.3L629.1 497.1L625.5 496.8L621.8 496.4ZM663.3 488.1L666.9 487.9L670.6 487.5L674.2 487.2L677.8 486.9L681.5 486.6L685.1 486.4L685.1 496.1L681.5 496L677.8 496.1L674.2 496.2L670.6 496.4L666.9 496.6L663.3 496.8ZM695.6 486.6L699.5 487L703.3 487.6L707.2 488.4L711 489.2L714.9 490.1L718.7 490.9L718.7 501.1L714.9 500.4L711 499.6L707.2 498.7L703.3 498L699.5 497.3L695.6 496.8ZM729.6 492.1L733.4 492.1L737.3 492L741.1 491.8L744.9 491.4L748.8 490.9L752.6 490.3L752.6 500.5L748.8 501.1L744.9 501.6L741.1 501.9L737.3 502.1L733.4 502.2L729.6 502.2ZM763.5 488.2L767 487.4L770.4 486.7L773.9 486L777.3 485.3L780.8 484.7L780.8 494.7L777.3 495.3L773.9 496L770.4 496.7L767 497.5L763.5 498.3ZM790.6 483.6L794.4 483.4L798.1 483.3L801.9 483.3L805.6 483.4L809.4 483.5L813.1 483.7L816.8 484L820.6 484.4L820.6 494.2L816.8 493.9L813.1 493.6L809.4 493.4L805.6 493.2L801.9 493.2L798.1 493.2L794.4 493.3L790.6 493.5ZM830.2 485.5L833.2 485.8L836.2 486.2L839.2 486.6L839.2 496.2L836.2 495.9L833.2 495.6L830.2 495.2ZM848.4 487.5L851.7 487.7L855 487.9L858.4 488.1L861.7 488.2L865 488.2L865 497.8L861.7 497.7L858.4 497.6L855 497.5L851.7 497.3L848.4 497.1ZM874.6 488.3L878.2 488.3L881.9 488.4L885.5 488.4L889.1 488.5L892.7 488.6L896.4 488.6L900 488.7L900 498.3L896.4 498.3L892.7 498.2L889.1 498.1L885.5 498.1L881.9 498L878.2 497.9L874.6 497.8ZM517.1 510.2L520.5 510.5L524 510.9L527.4 511.3L530.8 511.6L534.2 511.9L537.7 512L541.1 512L541.1 518.2L537.7 518.2L534.2 518.1L530.8 517.9L527.4 517.6L524 517.2L520.5 516.9L517.1 516.7ZM551 511.4L554.9 510.9L558.8 510.2L562.7 509.5L566.6 508.7L570.4 507.9L574.3 507.2L578.2 506.5L582.1 506L582.1 512.3L578.2 512.8L574.3 513.4L570.4 514.1L566.6 514.9L562.7 515.7L558.8 516.4L554.9 517.1L551 517.6ZM592.8 505.4L596.7 505.4L600.6 505.6L604.4 505.8L608.3 506.1L612.2 506.4L612.2 513.1L608.3 512.8L604.4 512.4L600.6 512.1L596.7 511.9L592.8 511.8ZM621.5 507.4L625.3 507.7L629 508L632.8 508.2L636.5 508.4L640.3 508.5L644.1 508.4L647.8 508.3L651.6 508.1L651.6 513.9L647.8 514.3L644.1 514.6L640.3 514.8L636.5 514.8L632.8 514.8L629 514.6L625.3 514.4L621.5 514.1ZM663.3 507.5L666.9 507.3L670.6 507.1L674.2 507L677.8 506.9L681.5 506.8L685.1 506.9L685.1 513.4L681.5 513.1L677.8 513L674.2 512.9L670.6 512.9L666.9 513L663.3 513.1ZM696.2 507.8L700 508.4L703.7 509L707.5 509.8L711.2 510.6L715 511.4L718.7 512.1L718.7 519L715 518.4L711.2 517.6L707.5 516.9L703.7 516.1L700 515.4L696.2 514.7ZM729.6 513.1L732.7 513.2L735.8 513.1L738.9 513L738.9 519.9L735.8 520L732.7 520L729.6 520ZM749.9 511.9L753 511.4L756 510.8L759.1 510.2L759.1 517L756 517.7L753 518.3L749.9 518.8ZM769.8 507.8L773.4 507L777 506.3L780.6 505.7L784.2 505.1L787.8 504.7L791.4 504.4L791.4 511.1L787.8 511.4L784.2 511.8L780.6 512.4L777 513L773.4 513.8L769.8 514.6ZM800.5 504.1L804.1 504.1L807.7 504.2L811.3 504.4L814.9 504.6L818.6 504.9L822.2 505.2L825.8 505.6L829.4 506L833 506.4L833 513L829.4 512.6L825.8 512.2L822.2 511.8L818.6 511.5L814.9 511.3L811.3 511.1L807.7 510.9L804.1 510.8L800.5 510.8ZM842.6 507.5L846.3 507.8L849.9 508.1L853.6 508.3L857.2 508.5L860.9 508.6L864.5 508.6L868.1 508.6L871.8 508.6L871.8 515.1L868.1 515L864.5 515L860.9 515L857.2 514.9L853.6 514.7L849.9 514.5L846.3 514.3L842.6 513.9ZM884.5 508.9L887.8 509L891.1 509.1L894.5 509.1L897.8 509.2L897.8 515.7L894.5 515.6L891.1 515.5L887.8 515.4L884.5 515.3ZM517.1 525.3L520.8 525.6L524.6 525.9L528.3 526.3L532 526.6L535.8 526.8L539.5 526.8L539.5 536.7L535.8 536.7L532 536.5L528.3 536.3L524.6 536L520.8 535.8L517.1 535.6ZM549 526.5L552.6 526.1L556.2 525.5L559.8 524.9L563.4 524.2L567 523.4L567 533.3L563.4 534.1L559.8 534.8L556.2 535.4L552.6 536L549 536.4ZM578 521.4L581.8 521L585.6 520.7L589.3 520.5L593.1 520.5L596.9 520.6L596.9 530.9L593.1 530.7L589.3 530.7L585.6 530.7L581.8 531L578 531.4ZM608.1 521.4L612 521.8L615.8 522.2L619.7 522.6L623.5 522.9L627.4 523.2L631.3 523.4L635.1 523.5L639 523.5L639 533.6L635.1 533.8L631.3 533.8L627.4 533.7L623.5 533.5L619.7 533.2L615.8 532.8L612 532.3L608.1 531.9ZM649.7 522.7L653.4 522.4L657.1 522.1L660.8 521.8L664.4 521.7L668.1 521.6L671.8 521.5L671.8 531L668.1 530.9L664.4 530.9L660.8 531.1L657.1 531.3L653.4 531.8L649.7 532.3ZM683 521.9L686.4 522.2L689.9 522.5L693.3 523L696.8 523.5L700.2 524.1L700.2 535.1L696.8 534.4L693.3 533.7L689.9 533.1L686.4 532.5L683 532ZM710.2 526.2L714 526.9L717.8 527.5L721.5 528.1L725.3 528.4L729.1 528.7L732.9 528.7L732.9 539.5L729.1 539.4L725.3 539.2L721.5 538.9L717.8 538.4L714 537.8L710.2 537.1ZM745.8 528L749.7 527.5L753.5 526.9L757.4 526.1L761.3 525.3L765.1 524.4L769 523.5L769 534.2L765.1 535.1L761.3 536L757.4 536.9L753.5 537.6L749.7 538.3L745.8 538.8ZM778.4 521.5L781.9 520.9L785.4 520.4L788.8 520L792.3 519.7L795.8 519.5L795.8 530L792.3 530.2L788.8 530.5L785.4 530.9L781.9 531.4L778.4 532.1ZM805.7 519.5L809.5 519.7L813.4 519.8L817.2 520.1L821 520.4L824.8 520.8L828.6 521.2L832.5 521.6L836.3 522L836.3 532.3L832.5 531.9L828.6 531.6L824.8 531.2L821 530.9L817.2 530.6L813.4 530.3L809.5 530.2L805.7 530ZM846.4 522.9L849.8 523.2L853.2 523.4L856.7 523.5L860.1 523.6L863.5 523.7L866.9 523.7L866.9 533.9L863.5 533.9L860.1 533.8L856.7 533.7L853.2 533.6L849.8 533.4L846.4 533.2ZM876.1 523.8L879.9 523.9L883.6 524L887.4 524.1L891.1 524.2L894.8 524.3L898.6 524.4L898.6 534.6L894.8 534.6L891.1 534.5L887.4 534.3L883.6 534.2L879.9 534.1L876.1 534Z" fill="#F1EBCC" stroke="#F1EBCC" stroke-width="7.4" stroke-linejoin="round"/>
<path fill="#FF8D7B" d="M509.6 544.5C522.2 544.5 528.5 545.7 541.1 545.7C560.1 545.7 569.6 539.7 588.6 539.7C606 539.7 614.7 542.9 632.1 542.9C645.3 542.9 651.9 539.7 665.1 539.7C692.6 539.7 706.4 548.7 733.9 548.7C760.1 548.7 773.3 539.1 799.5 539.1C825.7 539.1 838.9 542.9 865.1 542.9C882 542.9 890.4 543.8 907.3 543.8L907.3 597.7L509.6 597.7Z"/>
<path fill="#CE655F" d="M509.6 560.3C543.8 560.3 560.9 553.7 595.1 553.7C611.7 553.7 620.1 558.8 636.7 558.8C652.5 558.8 660.3 555.9 676.1 555.9C698 555.9 708.9 561.4 730.8 561.4C751.8 561.4 762.3 556.6 783.3 556.6C808.4 556.6 821 557 846.1 557C870.6 557 882.8 559.2 907.3 559.2L907.3 607.7L509.6 607.7Z"/>
<circle cx="554.3" cy="393.8" r="16.6" fill="url(#bub)" stroke="#C2E9F4" stroke-width="0.5"/>
<circle cx="626" cy="395.3" r="22.1" fill="url(#bub)" stroke="#C2E9F4" stroke-width="0.5"/>
<circle cx="686.6" cy="413.7" r="13.6" fill="url(#bub)" stroke="#C2E9F4" stroke-width="0.5"/>
<circle cx="760.8" cy="404.3" r="16.7" fill="url(#bub)" stroke="#C2E9F4" stroke-width="0.5"/>
<circle cx="826.2" cy="371.3" r="13.5" fill="url(#bub)" stroke="#C2E9F4" stroke-width="0.5"/>
<circle cx="866" cy="412.8" r="22.2" fill="url(#bub)" stroke="#C2E9F4" stroke-width="0.5"/>
<circle cx="564.1" cy="562" r="22.1" fill="url(#bub)" stroke="#C2E9F4" stroke-width="0.5"/>
<circle cx="659.7" cy="577.4" r="13.8" fill="url(#bub)" stroke="#C2E9F4" stroke-width="0.5"/>
<circle cx="754.9" cy="558.8" r="16.8" fill="url(#bub)" stroke="#C2E9F4" stroke-width="0.5"/>
<circle cx="849.4" cy="561" r="22.4" fill="url(#bub)" stroke="#C2E9F4" stroke-width="0.5"/>
<path d="M500 447.4H566.3M861 447.4H927.1" stroke="#4B3391" stroke-width="3.4" fill="none"/>
<path d="M572.8 447.4H851.1" stroke="url(#thg)" stroke-width="3.4" fill="none" stroke-dasharray="15.1 5.5"/>
<path d="M500 474.5H566.3M861 474.5H927.1" stroke="#4B3391" stroke-width="3.4" fill="none"/>
<path d="M572.8 474.5H851.1" stroke="url(#thg)" stroke-width="3.4" fill="none" stroke-dasharray="15.1 5.5"/>
<path d="M500 502.2H566.3M861 502.2H927.1" stroke="#4B3391" stroke-width="3.4" fill="none"/>
<path d="M572.8 502.2H851.1" stroke="url(#thg)" stroke-width="3.4" fill="none" stroke-dasharray="15.1 5.5"/>
<path d="M501.6 529.9H567.9M862.6 529.9H928.7" stroke="#4B3391" stroke-width="3.4" fill="none"/>
<path d="M574.4 529.9H852.7" stroke="url(#thg)" stroke-width="3.4" fill="none" stroke-dasharray="15.1 5.5"/>
</g>
<g transform="translate(488.2 405.1)">
<g clip-path="url(#cp)">
<rect x="509.6" y="330" width="397.7" height="170" fill="#FDF1EF"/>
<ellipse cx="552.1" cy="410.5" rx="8" ry="6.6" fill="#FADFE1" transform="rotate(-15 552.1 410.5)"/>
<ellipse cx="610.6" cy="421" rx="10" ry="8" fill="#FADFE1" transform="rotate(-10 610.6 421)"/>
<ellipse cx="664.8" cy="421" rx="9.4" ry="8" fill="#FADFE1" transform="rotate(-10 664.8 421)"/>
<ellipse cx="700" cy="436.4" rx="13.2" ry="13.5" fill="#FADFE1" transform="rotate(0 700 436.4)"/>
<ellipse cx="571" cy="443.5" rx="8" ry="6.5" fill="#FADFE1" transform="rotate(-10 571 443.5)"/>
<ellipse cx="638.9" cy="452.7" rx="8" ry="6" fill="#FADFE1" transform="rotate(-10 638.9 452.7)"/>
<ellipse cx="544.9" cy="462.5" rx="4.9" ry="4" fill="#FADFE1" transform="rotate(-10 544.9 462.5)"/>
<ellipse cx="745.8" cy="440.2" rx="8" ry="6.6" fill="#FADFE1" transform="rotate(-15 745.8 440.2)"/>
<ellipse cx="792.2" cy="451.6" rx="13.2" ry="13.7" fill="#FADFE1" transform="rotate(0 792.2 451.6)"/>
<ellipse cx="819.5" cy="421.2" rx="6.9" ry="5.7" fill="#FADFE1" transform="rotate(-15 819.5 421.2)"/>
<ellipse cx="871" cy="431.3" rx="7.1" ry="5.7" fill="#FADFE1" transform="rotate(-15 871 431.3)"/>
<ellipse cx="843" cy="460.8" rx="5.4" ry="5" fill="#FADFE1" transform="rotate(-40 843 460.8)"/>
<path fill="#FBD3CA" d="M509.6 269.8L509.6 380.8C511 380.8 512.4 388.8 514.3 388.8C517.3 388.8 519.3 360.8 521.8 360.8C525 360.8 527.6 393.2 531.5 393.2C539.7 393.2 542.8 362.3 552.1 362.3C556.8 362.3 558.3 395.1 562.5 395.1C563.9 395.1 564.5 394 565.9 394C568.4 394 570.1 352.2 572.2 352.2C576 352.2 579 407.2 583.6 407.2C587.5 407.2 589 372.4 593.4 372.4C600.1 372.4 602.3 394.8 608.3 394.8C614.4 394.8 618 363.9 623.5 363.9C627.3 363.9 629.9 402.8 634.1 402.8C640.1 402.8 643.6 355.8 649 355.8C653.1 355.8 655.8 386 660.4 386C665 386 667.8 351.3 671.9 351.3C678.6 351.3 683 402.8 690.4 402.8C694.7 402.8 697.2 366.6 701.1 366.6C704.4 366.6 706.7 387.7 710.4 387.7C711.8 387.7 712.7 385.2 714 385.2C716.6 385.2 718.3 402 721.2 402C725.3 402 728.1 350.1 731.5 350.1C736.1 350.1 739.8 415.4 745.3 415.4C749.3 415.4 751.6 362.5 755.2 362.5C761 362.5 764.9 410 771.3 410C774 410 775.9 367.3 778.1 367.3C782 367.3 785.2 418.1 790 418.1C795.2 418.1 798.3 371.9 802.9 371.9C808.2 371.9 811.7 406.9 817.5 406.9C821.6 406.9 823.2 356.8 827.8 356.8C836.9 356.8 839.9 406.9 848 406.9C852.3 406.9 854.8 371.7 858.7 371.7C862.9 371.7 865.8 392.8 870.5 392.8C875.9 392.8 879.1 358.1 883.9 358.1C889.4 358.1 893.1 407.7 899.2 407.7C902.4 407.7 904.9 385.4 907.3 385.4L907.3 269.8Z"/>
<path fill="#F8BAB0" d="M509.6 269.8L509.6 360.4C511 360.4 512.4 368.4 514.3 368.4C517.3 368.4 519.3 340.4 521.8 340.4C525 340.4 527.6 372.8 531.5 372.8C539.7 372.8 542.8 341.9 552.1 341.9C556.8 341.9 558.3 374.7 562.5 374.7C563.9 374.7 564.5 373.6 565.9 373.6C568.4 373.6 570.1 331.8 572.2 331.8C576 331.8 579 386.8 583.6 386.8C587.5 386.8 589 356.4 593.4 356.4C600.1 356.4 602.3 377.6 608.3 377.6C614.4 377.6 618 343.5 623.5 343.5C627.3 343.5 629.9 382.4 634.1 382.4C640.1 382.4 643.6 335.4 649 335.4C653.1 335.4 655.8 365.6 660.4 365.6C665 365.6 667.8 330.9 671.9 330.9C678.6 330.9 683 382.4 690.4 382.4C694.7 382.4 697.2 351 701.1 351C704.4 351 706.7 367.3 710.4 367.3C711.8 367.3 712.7 364.8 714 364.8C716.6 364.8 718.3 381.6 721.2 381.6C725.3 381.6 728.1 329.7 731.5 329.7C736.1 329.7 739.8 395 745.3 395C749.3 395 751.6 342.1 755.2 342.1C761 342.1 764.9 389.6 771.3 389.6C774 389.6 775.9 346.9 778.1 346.9C782 346.9 785.2 397.7 790 397.7C795.2 397.7 798.3 351.5 802.9 351.5C808.2 351.5 811.7 386.5 817.5 386.5C821.6 386.5 823.2 338.9 827.8 338.9C836.9 338.9 839.9 386.5 848 386.5C852.3 386.5 854.8 351.3 858.7 351.3C862.9 351.3 865.8 372.4 870.5 372.4C875.9 372.4 879.1 337.7 883.9 337.7C889.4 337.7 893.1 387.3 899.2 387.3C902.4 387.3 904.9 365 907.3 365L907.3 269.8Z"/>
<path fill="#F5EEE6" d="M509.6 301.9L907.3 301.9L907.3 269.8L903.3 267.8L513.6 267.8L509.6 269.8Z"/>
<path d="M509.6 273.8L907.3 273.8" fill="none" stroke="#F2E7D8" stroke-width="3.8" stroke-linecap="round" stroke-dasharray="32.3 21.9 113.1 21.8 145.9 10.3 40.1 99999" stroke-dashoffset="-3"/>
<path d="M509.6 280.6L907.3 280.6" fill="none" stroke="#F2E7D8" stroke-width="3.8" stroke-linecap="round" stroke-dasharray="200.1 18.7 137.1 9 13.9 99999" stroke-dashoffset="-13"/>
<path d="M509.6 288.3L907.3 288.3" fill="none" stroke="#F2E7D8" stroke-width="3.8" stroke-linecap="round" stroke-dasharray="73.2 22.2 236.4 18.1 40.9 99999" stroke-dashoffset="-2.2"/>
<path d="M509.6 296L907.3 296" fill="none" stroke="#F2E7D8" stroke-width="3.8" stroke-linecap="round" stroke-dasharray="28.7 15.6 43.6 205.8 84.5 99999" stroke-dashoffset="-9.1"/>
<path d="M509.6 296L907.3 296" fill="none" stroke="#F8E4D9" stroke-width="3.8" stroke-linecap="round" stroke-dasharray="169.7 99999" stroke-dashoffset="-112.5"/>
</g>
<path fill="#EDD9B5" d="M509.6 269.8L570.7 236.1L864.8 236.1L907.3 269.8L509.6 269.8Z"/>
<path fill="#E5C873" d="M509.6 481.1C668.7 481.1 748.2 481.1 907.3 481.1L907.3 578.5L509.6 578.5Z"/>
<path d="M516.9 489.9L520.7 489.9L524.6 489.9L528.4 489.9L532.2 489.9L536.1 489.9L539.9 489.9L539.9 497.9L536.1 497.9L532.2 497.9L528.4 497.9L524.6 497.9L520.7 497.9L516.9 497.9ZM551.1 489.9L554.4 489.9L557.6 489.9L557.6 497.9L554.4 497.9L551.1 497.9ZM568.9 489.9L572.7 489.9L576.5 489.9L580.4 489.9L584.2 489.9L584.2 497.9L580.4 497.9L576.5 497.9L572.7 497.9L568.9 497.9ZM594.8 489.9L598.2 489.9L601.7 489.9L605.1 489.9L608.6 489.9L612 489.9L612 497.9L608.6 497.9L605.1 497.9L601.7 497.9L598.2 497.9L594.8 497.9ZM622.5 489.9L626.5 489.9L630.4 489.9L634.4 489.9L638.4 489.9L642.4 489.9L646.3 489.9L650.3 489.9L650.3 497.9L646.3 497.9L642.4 497.9L638.4 497.9L634.4 497.9L630.4 497.9L626.5 497.9L622.5 497.9ZM664 489.9L667.4 489.9L670.8 489.9L674.2 489.9L677.6 489.9L681 489.9L684.4 489.9L684.4 497.9L681 497.9L677.6 497.9L674.2 497.9L670.8 497.9L667.4 497.9L664 497.9ZM696.3 489.9L699.9 489.9L703.5 489.9L707.2 489.9L710.8 489.9L714.4 489.9L718 489.9L718 497.9L714.4 497.9L710.8 497.9L707.2 497.9L703.5 497.9L699.9 497.9L696.3 497.9ZM730.3 489.9L733.9 489.9L737.5 489.9L741.1 489.9L744.7 489.9L748.3 489.9L751.9 489.9L751.9 497.9L748.3 497.9L744.7 497.9L741.1 497.9L737.5 497.9L733.9 497.9L730.3 497.9ZM764.2 489.9L768.2 489.9L772.1 489.9L776.1 489.9L780.1 489.9L780.1 497.9L776.1 497.9L772.1 497.9L768.2 497.9L764.2 497.9ZM791.3 489.9L794.9 489.9L798.5 489.9L802 489.9L805.6 489.9L809.2 489.9L812.8 489.9L816.3 489.9L819.9 489.9L819.9 497.9L816.3 497.9L812.8 497.9L809.2 497.9L805.6 497.9L802 497.9L798.5 497.9L794.9 497.9L791.3 497.9ZM830.9 489.9L834.7 489.9L838.5 489.9L838.5 497.9L834.7 497.9L830.9 497.9ZM849.1 489.9L852.9 489.9L856.7 489.9L860.5 489.9L864.3 489.9L864.3 497.9L860.5 497.9L856.7 497.9L852.9 497.9L849.1 497.9ZM875.3 489.9L878.7 489.9L882.2 489.9L885.6 489.9L889 489.9L892.4 489.9L895.9 489.9L899.3 489.9L899.3 497.9L895.9 497.9L892.4 497.9L889 497.9L885.6 497.9L882.2 497.9L878.7 497.9L875.3 497.9ZM517.8 510.1L521.6 510.1L525.3 510.1L529.1 510.1L532.9 510.1L536.6 510.1L540.4 510.1L540.4 515L536.6 515L532.9 515L529.1 515L525.3 515L521.6 515L517.8 515ZM551.7 510.1L555.4 510.1L559.1 510.1L562.8 510.1L566.6 510.1L570.3 510.1L574 510.1L577.7 510.1L581.4 510.1L581.4 515L577.7 515L574 515L570.3 515L566.6 515L562.8 515L559.1 515L555.4 515L551.7 515ZM593.5 510.1L597.1 510.1L600.7 510.1L604.3 510.1L607.9 510.1L611.5 510.1L611.5 515L607.9 515L604.3 515L600.7 515L597.1 515L593.5 515ZM622.2 510.1L625.8 510.1L629.4 510.1L633 510.1L636.5 510.1L640.1 510.1L643.7 510.1L647.3 510.1L650.9 510.1L650.9 515L647.3 515L643.7 515L640.1 515L636.5 515L633 515L629.4 515L625.8 515L622.2 515ZM664 510.1L667.4 510.1L670.8 510.1L674.2 510.1L677.6 510.1L681 510.1L684.4 510.1L684.4 515L681 515L677.6 515L674.2 515L670.8 515L667.4 515L664 515ZM696.9 510.1L700.4 510.1L703.9 510.1L707.5 510.1L711 510.1L714.5 510.1L718 510.1L718 515L714.5 515L711 515L707.5 515L703.9 515L700.4 515L696.9 515ZM730.3 510.1L734.2 510.1L738.2 510.1L738.2 515L734.2 515L730.3 515ZM750.6 510.1L754.5 510.1L758.4 510.1L758.4 515L754.5 515L750.6 515ZM770.5 510.1L773.9 510.1L777.2 510.1L780.6 510.1L784 510.1L787.3 510.1L790.7 510.1L790.7 515L787.3 515L784 515L780.6 515L777.2 515L773.9 515L770.5 515ZM801.2 510.1L805.1 510.1L809 510.1L812.9 510.1L816.8 510.1L820.6 510.1L824.5 510.1L828.4 510.1L832.3 510.1L832.3 515L828.4 515L824.5 515L820.6 515L816.8 515L812.9 515L809 515L805.1 515L801.2 515ZM843.3 510.1L847.3 510.1L851.2 510.1L855.2 510.1L859.2 510.1L863.2 510.1L867.1 510.1L871.1 510.1L871.1 515L867.1 515L863.2 515L859.2 515L855.2 515L851.2 515L847.3 515L843.3 515ZM885.2 510.1L889.2 510.1L893.1 510.1L897.1 510.1L897.1 515L893.1 515L889.2 515L885.2 515ZM517.8 525.1L521.3 525.1L524.8 525.1L528.3 525.1L531.8 525.1L535.3 525.1L538.8 525.1L538.8 533.7L535.3 533.7L531.8 533.7L528.3 533.7L524.8 533.7L521.3 533.7L517.8 533.7ZM549.7 525.1L553 525.1L556.3 525.1L559.7 525.1L563 525.1L566.3 525.1L566.3 533.7L563 533.7L559.7 533.7L556.3 533.7L553 533.7L549.7 533.7ZM578.7 525.1L582.2 525.1L585.7 525.1L589.2 525.1L592.7 525.1L596.2 525.1L596.2 533.7L592.7 533.7L589.2 533.7L585.7 533.7L582.2 533.7L578.7 533.7ZM608.8 525.1L612.5 525.1L616.2 525.1L619.9 525.1L623.5 525.1L627.2 525.1L630.9 525.1L634.6 525.1L638.3 525.1L638.3 533.7L634.6 533.7L630.9 533.7L627.2 533.7L623.5 533.7L619.9 533.7L616.2 533.7L612.5 533.7L608.8 533.7ZM650.4 525.1L653.9 525.1L657.3 525.1L660.8 525.1L664.2 525.1L667.6 525.1L671.1 525.1L671.1 533.7L667.6 533.7L664.2 533.7L660.8 533.7L657.3 533.7L653.9 533.7L650.4 533.7ZM683.7 525.1L687.6 525.1L691.6 525.1L695.6 525.1L699.5 525.1L699.5 533.7L695.6 533.7L691.6 533.7L687.6 533.7L683.7 533.7ZM710.9 525.1L714.5 525.1L718 525.1L721.5 525.1L725.1 525.1L728.7 525.1L732.2 525.1L732.2 533.7L728.7 533.7L725.1 533.7L721.5 533.7L718 533.7L714.5 533.7L710.9 533.7ZM746.5 525.1L750.1 525.1L753.8 525.1L757.4 525.1L761 525.1L764.7 525.1L768.3 525.1L768.3 533.7L764.7 533.7L761 533.7L757.4 533.7L753.8 533.7L750.1 533.7L746.5 533.7ZM779.1 525.1L782.3 525.1L785.5 525.1L788.7 525.1L791.9 525.1L795.1 525.1L795.1 533.7L791.9 533.7L788.7 533.7L785.5 533.7L782.3 533.7L779.1 533.7ZM806.4 525.1L810 525.1L813.7 525.1L817.4 525.1L821 525.1L824.6 525.1L828.3 525.1L832 525.1L835.6 525.1L835.6 533.7L832 533.7L828.3 533.7L824.6 533.7L821 533.7L817.4 533.7L813.7 533.7L810 533.7L806.4 533.7ZM847.1 525.1L850.9 525.1L854.7 525.1L858.6 525.1L862.4 525.1L866.2 525.1L866.2 533.7L862.4 533.7L858.6 533.7L854.7 533.7L850.9 533.7L847.1 533.7ZM876.8 525.1L880.3 525.1L883.8 525.1L887.4 525.1L890.9 525.1L894.4 525.1L897.9 525.1L897.9 533.7L894.4 533.7L890.9 533.7L887.4 533.7L883.8 533.7L880.3 533.7L876.8 533.7Z" fill="#F1EBCC" stroke="#F1EBCC" stroke-width="8.8" stroke-linejoin="round"/>
<path fill="#FF8D7B" d="M509.6 543.4C668.7 543.4 748.2 543.4 907.3 543.4L907.3 598.5L509.6 598.5Z"/>
<path fill="#CE655F" d="M509.6 558.8C668.7 558.8 748.2 558.8 907.3 558.8L907.3 608.5L509.6 608.5Z"/>
<path d="M500 447.4H566.3M861 447.4H927.1" stroke="#4B3391" stroke-width="3.4" fill="none"/>
<path d="M572.8 447.4H851.1" stroke="url(#thg)" stroke-width="3.4" fill="none" stroke-dasharray="15.1 5.5"/>
<path d="M500 474.5H566.3M861 474.5H927.1" stroke="#4B3391" stroke-width="3.4" fill="none"/>
<path d="M572.8 474.5H851.1" stroke="url(#thg)" stroke-width="3.4" fill="none" stroke-dasharray="15.1 5.5"/>
<path d="M500 502.2H566.3M861 502.2H927.1" stroke="#4B3391" stroke-width="3.4" fill="none"/>
<path d="M572.8 502.2H851.1" stroke="url(#thg)" stroke-width="3.4" fill="none" stroke-dasharray="15.1 5.5"/>
<path d="M501.6 529.9H567.9M862.6 529.9H928.7" stroke="#4B3391" stroke-width="3.4" fill="none"/>
<path d="M574.4 529.9H852.7" stroke="url(#thg)" stroke-width="3.4" fill="none" stroke-dasharray="15.1 5.5"/>
</g>
<text x="437" y="155" font-size="122" font-weight="bold" letter-spacing="12" font-family="&quot;Liberation Sans&quot;, &quot;Noto Sans CJK TC&quot;, sans-serif"><tspan fill="#5C4599">埋線拉提</tspan><tspan fill="#000">作用原理</tspan></text>
<g fill="#000" font-size="58.8" letter-spacing="6.2" font-family="&quot;Liberation Sans&quot;, &quot;Noto Sans CJK TC&quot;, sans-serif">
<text x="234" y="526">肌膚組織</text>
<text x="234" y="601">老化下垂</text>
<text x="1442" y="526">埋入線材</text>
<text x="1442" y="601">拉提組織</text>
<text x="225" y="934.5">刺激膠原</text>
<text x="225" y="1009">蛋白增生</text>
<text x="1444" y="934.5">線材吸收</text>
<text x="1444" y="1009">拉提緊緻</text>
</g>
<g fill="#000" text-anchor="middle" font-family="&quot;Liberation Sans&quot;, sans-serif">
<text x="115.5" y="600.8" font-size="299">1</text>
<text x="1804.5" y="600.7" font-size="299">2</text>
<text x="112" y="1009" font-size="298">3</text>
<text x="1811" y="1008.8" font-size="298">4</text>
</g>
</svg>
</body></html>
